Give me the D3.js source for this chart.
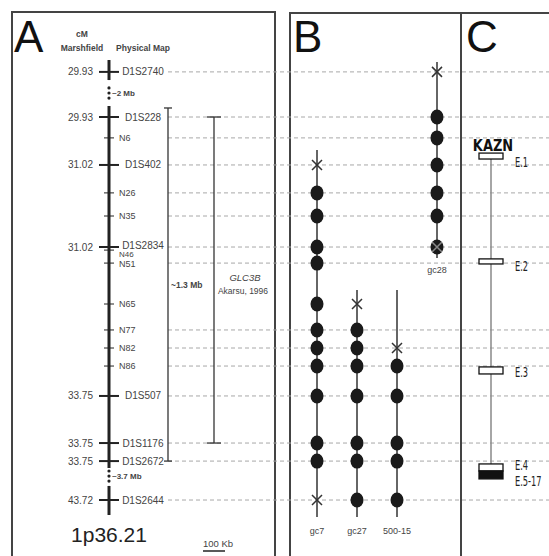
<!DOCTYPE html>
<html lang="en">
<head>
<meta charset="UTF-8">
<title>1p36.21 map</title>
<script src="https://d3js.org/d3.v7.min.js"></script>
<style>
    body { margin: 0; background: #fff; }
    svg { display: block; font-family: "Liberation Sans", Arial, sans-serif; }
    .lbl { fill: #444; }
    .cond { font-family: "DejaVu Sans Condensed", "DejaVu Sans", sans-serif; font-stretch: condensed; }
</style>
</head>
<body>
<div id="chart"></div>
<script>
    // marker positions along the physical map, in kb from D1S228 (gaps not to scale)
    const markerNames = ["D1S2740", "D1S228", "N6", "D1S402", "N26", "N35", "D1S2834", "N46", "N51",
        "N65", "N77", "N82", "N86", "D1S507", "D1S1176", "D1S2672", "D1S2644"];
    const markerKb = [-205, 0, 95, 218, 345, 450, 591, 605, 664, 850, 968, 1050, 1132, 1268, 1482, 1564, 1741];
    const markerCM = ["29.93", "29.93", null, "31.02", null, null, "31.02", null, null,
        null, null, null, null, "33.75", "33.75", "33.75", "43.72"];
    const markerDashed = [1, 1, 1, 1, 1, 1, 1, 0, 1, 0, 1, 1, 1, 1, 1, 1, 1];

    // chromosome segments and gaps
    const chromSegments = [[-259, -168], [-50, 1595], [1677, 1809]];
    const gapDots = [[-132, -109, -86], [1609, 1632, 1655]];
    const gapLabels = ["~2 Mb", "~3.7 Mb"];

    // haplotypes (panel B)
    const hapNames = ["gc7", "gc27", "500-15", "gc28"];
    const hapLine = [[150, 1818], [786, 1818], [786, 1818], [-250, 641]];
    const hapX = [["D1S402", "D1S2644"], ["N65"], ["N82"], ["D1S2740"]];
    const hapDots = [
        ["N26", "N35", "D1S2834", "N51", "N65", "N77", "N82", "N86", "D1S507", "D1S1176", "D1S2672"],
        ["N77", "N82", "N86", "D1S507", "D1S1176", "D1S2672", "D1S2644"],
        ["N86", "D1S507", "D1S1176", "D1S2672", "D1S2644"],
        ["D1S228", "N6", "D1S402", "N26", "N35", "D1S2834"]
    ];
    const hapGreyX = [[], [], [], ["D1S2834"]];

    // KAZN exons (panel C)
    const exonNames = ["E.1", "E.2", "E.3", "E.4", "E.5-17"];
    const exonStart = [164, 645, 1136, 1577, 1609];
    const exonEnd = [191, 668, 1168, 1609, 1645];
    const exonFilled = [false, false, false, false, true];

    const width = 549, height = 556;
    const svg = d3.select("#chart").append("svg").attr("width", width).attr("height", height);

    const y = d3.scaleLinear().domain([0, 1000]).range([117, 337]);
    const kbOf = {};
    markerNames.forEach((n, i) => kbOf[n] = markerKb[i]);

    const chromX = 109;
    const xHap = d3.scalePoint().domain(hapNames).range([317, 437]);

    // panel frames
    svg.append("rect").attr("x", 12).attr("y", 12).attr("width", 263).attr("height", 600)
        .attr("fill", "none").attr("stroke", "#444").attr("stroke-width", 2);
    svg.append("rect").attr("x", 290).attr("y", 13).attr("width", 171).attr("height", 600)
        .attr("fill", "none").attr("stroke", "#444").attr("stroke-width", 2);
    svg.append("line").attr("x1", 461).attr("x2", 560).attr("y1", 13).attr("y2", 13)
        .attr("stroke", "#444").attr("stroke-width", 2);

    // panel letters
    [["A", 14], ["B", 293], ["C", 466]].forEach(([t, x]) => {
        svg.append("text").attr("x", x).attr("y", 52).attr("font-size", 44).attr("fill", "#111").text(t);
    });

    // dashed guide lines
    svg.append("g").selectAll("line")
        .data(markerNames.filter((d, i) => markerDashed[i]))
        .join("line")
        .attr("x1", 168).attr("x2", width)
        .attr("y1", d => y(kbOf[d])).attr("y2", d => y(kbOf[d]))
        .attr("stroke", "#a8a8a8").attr("stroke-width", 1).attr("stroke-dasharray", "4,3");

    // headers
    svg.append("text").attr("x", 82).attr("y", 37).attr("text-anchor", "middle")
        .attr("font-size", 8.5).attr("font-weight", "bold").attr("class", "lbl").text("cM");
    svg.append("text").attr("x", 82).attr("y", 51).attr("text-anchor", "middle")
        .attr("font-size", 8.5).attr("font-weight", "bold").attr("class", "lbl").text("Marshfield");
    svg.append("text").attr("x", 143).attr("y", 51).attr("text-anchor", "middle")
        .attr("font-size", 8.5).attr("font-weight", "bold").attr("class", "lbl").text("Physical Map");

    // chromosome
    svg.append("g").selectAll("line").data(chromSegments).join("line")
        .attr("x1", chromX).attr("x2", chromX)
        .attr("y1", d => y(d[0])).attr("y2", d => y(d[1]))
        .attr("stroke", "#222").attr("stroke-width", 3);
    gapDots.forEach((g, gi) => {
        svg.append("g").selectAll("circle").data(g).join("circle")
            .attr("cx", chromX).attr("cy", d => y(d)).attr("r", 1.6).attr("fill", "#222");
        svg.append("text").attr("x", chromX + 3).attr("y", y(g[1])).attr("dy", "0.35em")
            .attr("font-size", 8).attr("font-weight", "bold").attr("class", "lbl").text(gapLabels[gi]);
    });

    // ticks and labels (D1S2834 / N46 / N51 sit very close, labels nudged apart)
    const labelNudge = { "D1S2834": -1.5, "N46": 4, "N51": 1 };
    const mk = svg.append("g");
    markerNames.forEach((n, i) => {
        const yy = y(markerKb[i]);
        const major = markerCM[i] !== null;
        const lblY = yy + (labelNudge[n] || 0);
        mk.append("line")
            .attr("x1", major ? chromX - 10 : chromX - 5).attr("x2", major ? chromX + 10 : chromX + 5)
            .attr("y1", yy).attr("y2", yy)
            .attr("stroke", "#222").attr("stroke-width", major ? 2 : 1);
        if (major) {
            mk.append("text").attr("x", 93).attr("y", yy).attr("dy", "0.35em").attr("text-anchor", "end")
                .attr("font-size", 10).attr("class", "lbl").text(markerCM[i]);
            mk.append("text").attr("x", 143).attr("y", lblY).attr("dy", "0.35em").attr("text-anchor", "middle")
                .attr("font-size", 10).attr("class", "lbl").text(n);
        } else {
            mk.append("text").attr("x", 119).attr("y", lblY).attr("dy", "0.35em")
                .attr("font-size", n === "N46" ? 8 : 9).attr("class", "lbl").text(n);
        }
    });

    // brackets
    function bracket(x, k0, k1, cap) {
        const g = svg.append("g").attr("stroke", "#333").attr("stroke-width", 1.3);
        g.append("line").attr("x1", x).attr("x2", x).attr("y1", y(k0)).attr("y2", y(k1));
        g.append("line").attr("x1", x - cap).attr("x2", x + cap).attr("y1", y(k0)).attr("y2", y(k0));
        g.append("line").attr("x1", x - cap).attr("x2", x + cap).attr("y1", y(k1)).attr("y2", y(k1));
    }
    bracket(168, -41, 1564, 4);
    bracket(214, 0, 1482, 7);
    svg.append("text").attr("x", 171).attr("y", 288).attr("font-size", 8.5).attr("font-weight", "bold")
        .attr("class", "lbl").text("~1.3 Mb");
    svg.append("text").attr("x", 245).attr("y", 281).attr("text-anchor", "middle").attr("font-size", 9.5)
        .attr("font-style", "italic").attr("class", "lbl").text("GLC3B");
    svg.append("text").attr("x", 243).attr("y", 294).attr("text-anchor", "middle").attr("font-size", 8.5)
        .attr("class", "lbl").text("Akarsu, 1996");

    svg.append("text").attr("x", 109).attr("y", 542).attr("text-anchor", "middle").attr("font-size", 21)
        .attr("fill", "#222").text("1p36.21");
    svg.append("text").attr("x", 203).attr("y", 547).attr("font-size", 9.5).attr("class", "lbl").text("100 Kb");
    svg.append("line").attr("x1", 203).attr("x2", 203 + (y(100) - y(0))).attr("y1", 551).attr("y2", 551)
        .attr("stroke", "#222").attr("stroke-width", 1.5);

    // panel B haplotypes
    hapNames.forEach((h, i) => {
        const x = xHap(h);
        const g = svg.append("g");
        g.append("line").attr("x1", x).attr("x2", x)
            .attr("y1", y(hapLine[i][0])).attr("y2", y(hapLine[i][1]))
            .attr("stroke", "#333").attr("stroke-width", 1.5);
        g.selectAll("ellipse").data(hapDots[i]).join("ellipse")
            .attr("cx", x).attr("cy", d => y(kbOf[d])).attr("rx", 6.5).attr("ry", 7.5).attr("fill", "#1a1a1a");
        const cross = (sel, col) => sel.each(function (d) {
            const yy = y(kbOf[d]);
            d3.select(this).append("path")
                .attr("d", `M${x - 5},${yy - 5}L${x + 5},${yy + 5}M${x + 5},${yy - 5}L${x - 5},${yy + 5}`)
                .attr("stroke", col).attr("stroke-width", 1.5).attr("fill", "none");
        });
        cross(g.append("g").selectAll("g").data(hapX[i]).join("g"), "#333");
        cross(g.append("g").selectAll("g").data(hapGreyX[i]).join("g"), "#888");
        const ly = i === 3 ? y(hapLine[i][1]) + 12 : 531;
        g.append("text").attr("x", x).attr("y", ly).attr("dy", "0.35em").attr("text-anchor", "middle")
            .attr("font-size", 9).attr("class", "lbl").text(h);
    });

    // panel C gene
    const gx = 491;
    svg.append("line").attr("x1", gx).attr("x2", gx).attr("y1", y(177)).attr("y2", y(exonStart[3]))
        .attr("stroke", "#888").attr("stroke-width", 1.5);
    svg.append("text").attr("transform", "translate(493,151) scale(0.9,1)").attr("text-anchor", "middle")
        .attr("class", "cond").attr("font-size", 16).attr("font-weight", "bold").attr("fill", "#111").text("KAZN");
    const exonLabelShift = [6, 5, 1.5, -2, 6];
    exonNames.forEach((e, i) => {
        const y0 = y(exonStart[i]), y1 = y(exonEnd[i]);
        svg.append("rect").attr("x", 479).attr("y", y0).attr("width", 24).attr("height", y1 - y0)
            .attr("fill", exonFilled[i] ? "#111" : "#fff").attr("stroke", "#111").attr("stroke-width", 1.3);
        const ty = (y0 + y1) / 2 + exonLabelShift[i];
        svg.append("text").attr("transform", `translate(515,${ty}) scale(0.68,1)`).attr("dy", "0.35em")
            .attr("class", "cond").attr("font-size", 13.5).attr("fill", "#222").text(e);
    });
</script>
</body>
</html>
